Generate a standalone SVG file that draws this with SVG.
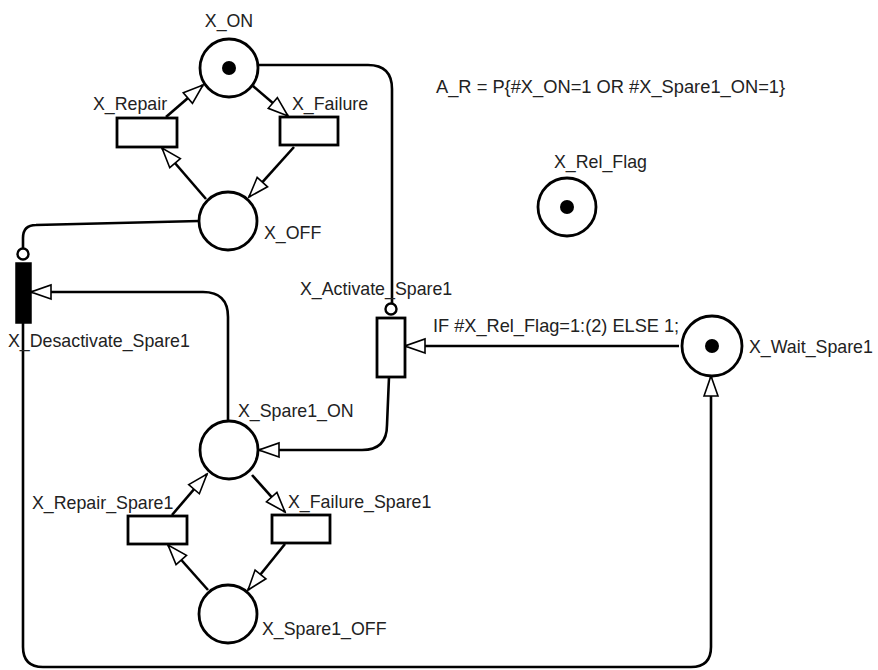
<svg xmlns="http://www.w3.org/2000/svg" width="878" height="670" viewBox="0 0 878 670">
<defs>
<marker id="arr" markerUnits="userSpaceOnUse" markerWidth="24" markerHeight="18" viewBox="0 0 24 18" refX="22" refY="9" orient="auto">
<path d="M2,2 L22,9 L2,16 Z" fill="#fff" stroke="#000" stroke-width="1.6"/>
</marker>
</defs>
<style>
.pl{fill:#fff;stroke:#000;stroke-width:2.8}
.tr{fill:#fff;stroke:#000;stroke-width:2.8}
.tk{fill:#000}
.ed{fill:none;stroke:#000;stroke-width:2.6}
.ar{marker-end:url(#arr)}
.inh{fill:#fff;stroke:#000;stroke-width:2.4}
text{font-family:"Liberation Sans",Arial,sans-serif;font-size:17.8px;fill:#222}
</style>
<rect width="878" height="670" fill="#fff"/>
<g id="connectors">
<path class="ed ar" d="M206,199 L162,148"/>
<path class="ed ar" d="M166,117 L203,85"/>
<path class="ed ar" d="M253,86 L288,116"/>
<path class="ed ar" d="M294,147 L249,197"/>
<path class="ed ar" d="M208,590 L168,545"/>
<path class="ed ar" d="M172,515 L207,474"/>
<path class="ed ar" d="M252,475 L285,512"/>
<path class="ed ar" d="M285,544 L248,590"/>
<path class="ed" d="M258,65 L368,65 Q392,65 392,89 L392,303"/>
<path class="ed ar" d="M679,346 L405,346"/>
<path class="ed ar" d="M389,377 L387,425 Q387,450 362,450 L259,450"/>
<path class="ed ar" d="M228,421 L228,317 Q228,292 203,292 L31,292"/>
<path class="ed" d="M199,221 L36,225 Q23,225 23,238 L23,248"/>
<path class="ed ar" d="M23,323 L23,647 Q23,667 43,667 L691,667 Q711,667 711,647 L711,376"/>
</g>
<g id="X_ON">
<circle class="pl" cx="229" cy="68" r="29"/>
<circle class="tk" cx="229" cy="68" r="7"/>
<text x="229" y="27" text-anchor="middle">X_ON</text>
</g>
<g id="X_OFF">
<circle class="pl" cx="228" cy="221" r="29"/>
<text x="264" y="239">X_OFF</text>
</g>
<g id="X_Repair">
<rect class="tr" x="117" y="118" width="60" height="29"/>
<text x="93" y="110">X_Repair</text>
</g>
<g id="X_Failure">
<rect class="tr" x="280" y="117" width="58" height="28"/>
<text x="292" y="110">X_Failure</text>
</g>
<g id="A_R">
<text x="436" y="93" style="font-size:18.3px">A_R = P{#X_ON=1 OR #X_Spare1_ON=1}</text>
</g>
<g id="X_Rel_Flag">
<circle class="pl" cx="567" cy="207" r="29"/>
<circle class="tk" cx="567" cy="207" r="7"/>
<text x="554" y="168">X_Rel_Flag</text>
</g>
<g id="X_Desactivate_Spare1">
<circle class="inh" cx="23" cy="254" r="5.5"/>
<rect x="16" y="263" width="15" height="60" fill="#000" stroke="#000" stroke-width="1.5"/>
<text x="8" y="347">X_Desactivate_Spare1</text>
</g>
<g id="X_Activate_Spare1">
<circle class="inh" cx="391" cy="309" r="5.5"/>
<rect class="tr" x="377" y="318" width="28" height="59"/>
<text x="300" y="295">X_Activate_Spare1</text>
</g>
<g id="X_Wait_Spare1">
<circle class="pl" cx="712" cy="346" r="30"/>
<circle class="tk" cx="712" cy="346" r="7"/>
<text x="749" y="353">X_Wait_Spare1</text>
<text x="433" y="332" style="font-size:18.2px">IF #X_Rel_Flag=1:(2) ELSE 1;</text>
</g>
<g id="X_Spare1_ON">
<circle class="pl" cx="229" cy="450" r="29"/>
<text x="238" y="417">X_Spare1_ON</text>
</g>
<g id="X_Repair_Spare1">
<rect class="tr" x="128" y="516" width="59" height="28"/>
<text x="32" y="509">X_Repair_Spare1</text>
</g>
<g id="X_Failure_Spare1">
<rect class="tr" x="272" y="515" width="58" height="28"/>
<text x="288" y="508">X_Failure_Spare1</text>
</g>
<g id="X_Spare1_OFF">
<circle class="pl" cx="228" cy="614" r="29"/>
<text x="262" y="635">X_Spare1_OFF</text>
</g>
</svg>
